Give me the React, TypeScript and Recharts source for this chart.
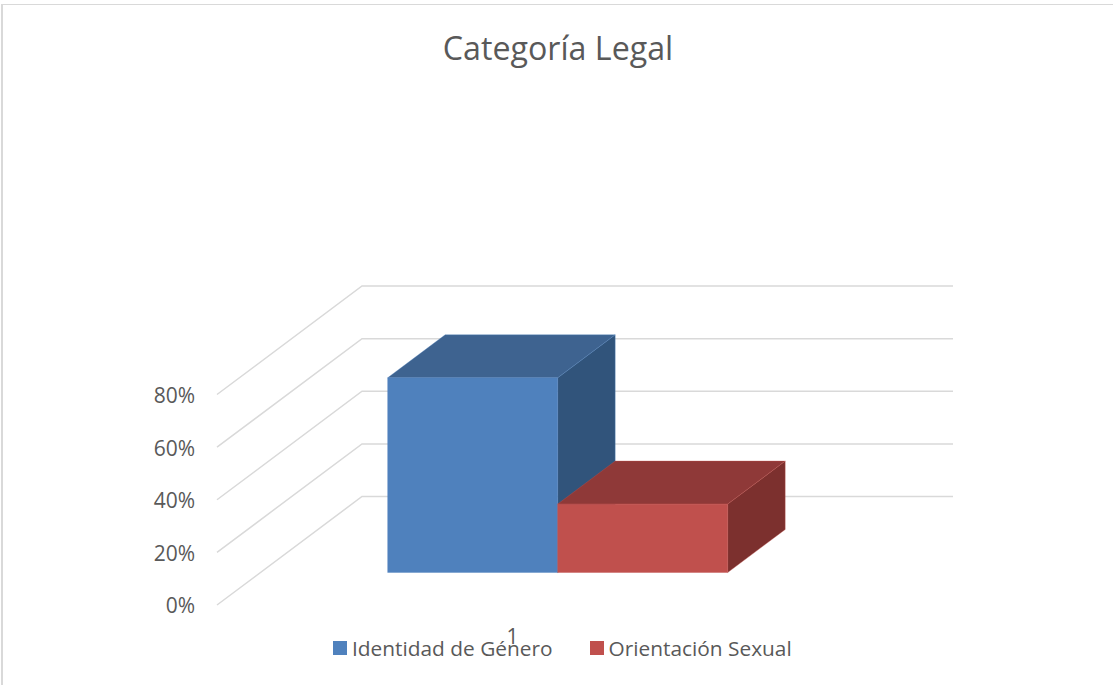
import { Bar, BarChart, CartesianGrid, Legend, XAxis, YAxis } from "recharts";

const categories = ["1"];
const seriesNames = ["Identidad de Género", "Orientación Sexual"];
const identidadValues = [74];
const orientacionValues = [26];
const yTicks = [0, 20, 40, 60, 80];

const data = categories.map((name, i) => ({
  name,
  [seriesNames[0]]: identidadValues[i],
  [seriesNames[1]]: orientacionValues[i],
}));

const TEXT_COLOR = "#595959";
const GRID_COLOR = "#d9d9d9";
const FONT = "'Open Sans', sans-serif";

// how far the back wall sits behind the axis plane
const WALL_DX = 145;
const WALL_DY = 108.5;
// how far the bars sit behind the axis plane
const BAR_DX = 44.8;
const BAR_DY = 32.5;
const CAP_DX = 57.5;
const CAP_DY = 43;

function GridLine3D({ x1, y1, x2 }: any) {
  const backX = x1 + WALL_DX;
  const backY = y1 - WALL_DY;
  return (
    <polyline
      points={`${x1},${y1} ${backX},${backY} ${x2 + WALL_DX},${backY}`}
      fill="none"
      stroke={GRID_COLOR}
      strokeWidth={1.5}
    />
  );
}

function Box3D({ x, y, width, height, front, top, side }: any) {
  const left = x + BAR_DX;
  const right = left + width;
  const upper = y - BAR_DY;
  const lower = upper + height;
  const edge = { stroke: front, strokeOpacity: 0.45, strokeWidth: 0.8 };
  return (
    <g>
      <polygon
        points={`${right},${upper} ${right + CAP_DX},${upper - CAP_DY} ${right + CAP_DX},${lower - CAP_DY} ${right},${lower}`}
        fill={side}
        {...edge}
      />
      <polygon
        points={`${left},${upper} ${left + CAP_DX},${upper - CAP_DY} ${right + CAP_DX},${upper - CAP_DY} ${right},${upper}`}
        fill={top}
        {...edge}
      />
      <rect x={left} y={upper} width={width} height={height} fill={front} {...edge} />
    </g>
  );
}

function LegendRow({ payload }: any) {
  return (
    <div style={{ display: "flex", gap: 37, fontFamily: FONT, fontSize: 20.85, color: TEXT_COLOR, lineHeight: "24px" }}>
      {(payload ?? []).map((item: any) => (
        <div key={item.value} style={{ display: "flex", alignItems: "center", gap: 5 }}>
          <span style={{ width: 14, height: 14, background: item.color, display: "block" }} />
          <span>{item.value}</span>
        </div>
      ))}
    </div>
  );
}

export default function App() {
  return (
    <div style={{ position: "absolute", left: 0, top: 0, width: 1113, height: 685, background: "#fff", overflow: "hidden" }}>
      <div style={{ position: "absolute", left: 1, top: 4, right: 0, bottom: 0, borderLeft: `2px solid ${GRID_COLOR}`, borderTop: `1px solid ${GRID_COLOR}` }} />
      <div style={{ position: "absolute", left: 0, width: 1116, top: 25, textAlign: "center", fontFamily: FONT, fontSize: 32.2, lineHeight: "46px", color: TEXT_COLOR }}>
        Categoría Legal
      </div>
      <BarChart
        width={1113}
        height={685}
        data={data}
        margin={{ top: 394.5, right: 305, bottom: 26, left: 157 }}
        barGap={0}
        barCategoryGap="21.3%"
        style={{ position: "absolute", left: 0, top: 0 }}
      >
        <CartesianGrid vertical={false} horizontal={(props: any) => <GridLine3D key={props.key} {...props} />} />
        <XAxis
          dataKey="name"
          axisLine={false}
          tickLine={false}
          tickSize={0}
          tickMargin={24}
          tick={{ fill: TEXT_COLOR, fontSize: 21, fontFamily: FONT }}
        />
        <YAxis
          width={60}
          domain={[0, 80]}
          ticks={yTicks}
          tickFormatter={(v: number) => `${v}%`}
          axisLine={false}
          tickLine={false}
          tickSize={0}
          tickMargin={22}
          tick={{ fill: TEXT_COLOR, fontSize: 21, fontFamily: FONT, dy: 1 }}
        />
        <Bar
          dataKey={seriesNames[0]}
          fill="#4f81bd"
          isAnimationActive={false}
          shape={(p: any) => <Box3D {...p} front="#4f81bd" top="#3e6390" side="#31547b" />}
        />
        <Bar
          dataKey={seriesNames[1]}
          fill="#c0504d"
          isAnimationActive={false}
          shape={(p: any) => <Box3D {...p} front="#c0504d" top="#8f3938" side="#7c302e" />}
        />
        <Legend
          content={<LegendRow />}
          wrapperStyle={{ position: "absolute", left: 333, top: 636, width: "auto", bottom: "auto" }}
        />
      </BarChart>
    </div>
  );
}
